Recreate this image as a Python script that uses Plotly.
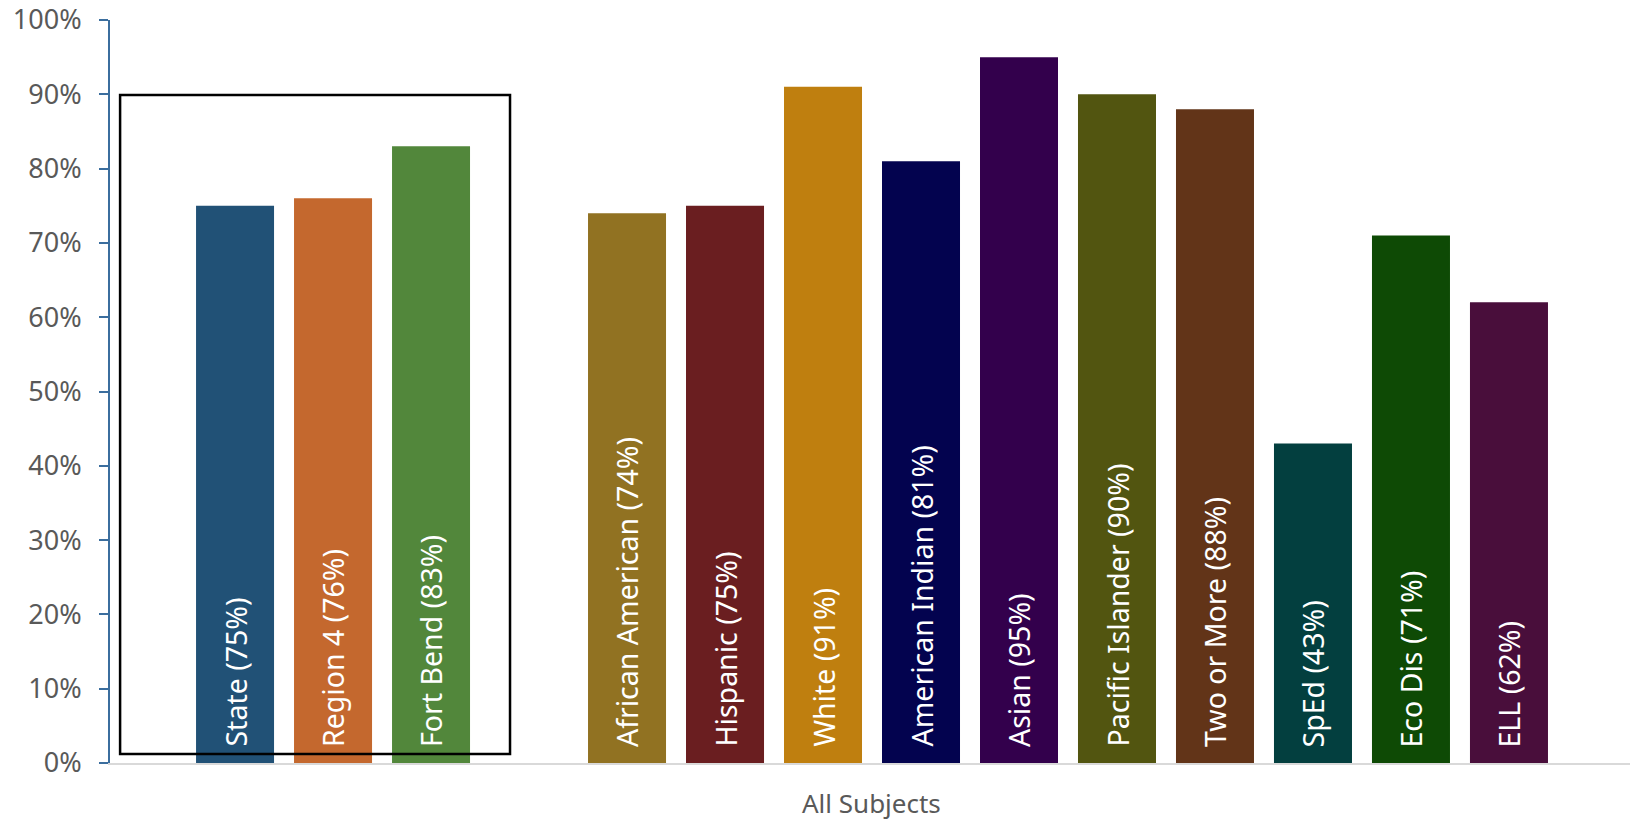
import plotly.graph_objects as go

categories = ["State", "Region 4", "Fort Bend", " ",
              "African American", "Hispanic", "White", "American Indian",
              "Asian", "Pacific Islander", "Two or More", "SpEd", "Eco Dis", "ELL"]
values = [75, 76, 83, None, 74, 75, 91, 81, 95, 90, 88, 43, 71, 62]
colors = ["#215176", "#C4682E", "#52873B", "#FFFFFF",
          "#917222", "#6A1E20", "#BF7F0F", "#03034F",
          "#33004C", "#525510", "#623418", "#033F3F", "#0E4A05", "#490E3B"]
y_ticks = [0, 10, 20, 30, 40, 50, 60, 70, 80, 90, 100]
x_title = "All Subjects"

FONT = "Noto Sans"

fig = go.Figure()
fig.add_trace(go.Bar(
    x=categories, y=values,
    marker=dict(color=colors, line=dict(width=0)),
    width=0.796,
    hoverinfo="x+y",
))

annotations = []
for c, v in zip(categories, values):
    if v is None:
        continue
    annotations.append(dict(
        x=c, y=0, xref="x", yref="y",
        text=f"{c} ({v}%)",
        textangle=-90, showarrow=False,
        xanchor="center", yanchor="bottom", yshift=14,
        font=dict(family=FONT, size=28.5, color="#FFFFFF"),
    ))
annotations.append(dict(
    x=0.501, y=0, xref="paper", yref="paper", yshift=-40,
    text=x_title, showarrow=False, xanchor="center", yanchor="middle",
    font=dict(family=FONT, size=26, color="#595959"),
))

fig.update_layout(
    width=1630, height=822,
    margin=dict(l=110, r=0, t=20, b=59),
    paper_bgcolor="white", plot_bgcolor="white",
    showlegend=False,
    annotations=annotations,
    font=dict(family=FONT, color="#595959"),
    xaxis=dict(
        type="category",
        categoryorder="array", categoryarray=categories,
        range=[-1.276, 14.235],
        showticklabels=False, ticks="",
        showgrid=False, zeroline=False,
        showline=True, linecolor="#D9D9D9", linewidth=2,
    ),
    yaxis=dict(
        range=[0, 100],
        tickvals=y_ticks,
        ticktext=[f"{t}%" for t in y_ticks],
        ticks="outside", ticklen=9, tickwidth=2, tickcolor="#3B6E9E",
        showline=True, linecolor="#3B6E9E", linewidth=2,
        showgrid=False, zeroline=False,
        tickfont=dict(family=FONT, size=27, color="#595959"),
        ticklabelstandoff=12,
    ),
    shapes=[dict(
        type="rect", xref="x", yref="y",
        x0=-1.173, x1=2.806, y0=1.2, y1=89.9,
        line=dict(color="#000000", width=2.5),
        fillcolor="rgba(0,0,0,0)", layer="above",
    )],
)

fig.write_html("out.html",
               config={"displayModeBar": False},
               post_script="document.body.style.margin='0';document.body.style.overflow='hidden';")
